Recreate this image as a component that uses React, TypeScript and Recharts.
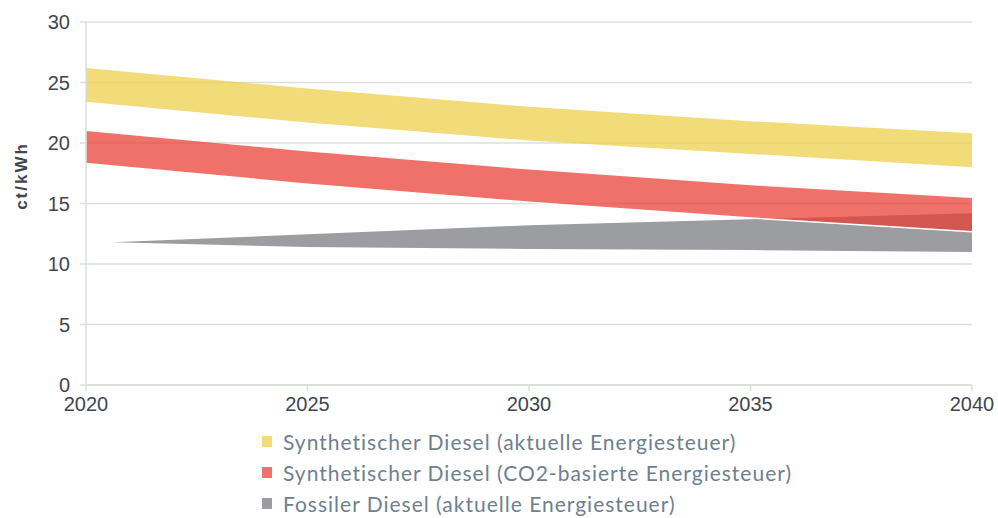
import React from 'react';
import { ComposedChart, Area, Line, XAxis, YAxis, CartesianGrid, Legend } from 'recharts';

const years = [2020, 2020.6, 2025, 2030, 2035, 2040];
const yellowLow = [23.4, null, 21.7, 20.2, 19.1, 18.0];
const yellowHigh = [26.2, null, 24.5, 23.0, 21.8, 20.8];
const redLow = [18.3, null, 16.6, 15.1, 13.8, 12.67];
const redHigh = [21.0, null, 19.3, 17.8, 16.5, 15.45];
const grayLow = [null, 11.8, 11.4, 11.25, 11.15, 11.0];
const grayHigh = [null, 11.8, 12.45, 13.2, 13.7, 14.2];

const xTicks = [2020, 2025, 2030, 2035, 2040];
const yTicks = [0, 5, 10, 15, 20, 25, 30];

const seriesNames = [
  'Synthetischer Diesel (aktuelle Energiesteuer)',
  'Synthetischer Diesel (CO2-basierte Energiesteuer)',
  'Fossiler Diesel (aktuelle Energiesteuer)',
];
const legendColors = ['#F2DC79', '#F0716B', '#9C9DA1'];

const pair = (a: (number | null)[], b: (number | null)[], i: number) =>
  a[i] == null || b[i] == null ? null : [a[i], b[i]];

const data = years.map((year, i) => ({
  year,
  yellow: pair(yellowLow, yellowHigh, i),
  red: pair(redLow, redHigh, i),
  gray: pair(grayLow, grayHigh, i),
  redLow: redLow[i],
}));

const gridColor = '#D9E0D9';
const tickStyle = { fill: '#3F4650', fontSize: 20, fontFamily: '"Liberation Sans", Arial, sans-serif' };

const LegendContent = () => (
  <div style={{ fontFamily: 'Lato, "Open Sans", sans-serif', fontSize: 21, letterSpacing: 1, color: '#6E7F8F' }}>
    {seriesNames.map((n, i) => (
      <div key={n} style={{ display: 'flex', alignItems: 'center', height: 31 }}>
        <span style={{ display: 'inline-block', width: 10, height: 11, background: legendColors[i], marginRight: 11 }} />
        <span>{n}</span>
      </div>
    ))}
  </div>
);

export default function App() {
  return (
    <div style={{ position: 'absolute', left: 0, top: 0 }}>
      <ComposedChart width={998} height={518} data={data} margin={{ top: 22, right: 26, bottom: 103, left: 0 }}>
        <CartesianGrid stroke={gridColor} strokeWidth={1.5} vertical={false} />
        <XAxis
          dataKey="year"
          type="number"
          domain={[2020, 2040]}
          ticks={xTicks}
          height={30}
          tick={tickStyle}
          tickLine={{ stroke: gridColor, strokeWidth: 1.5 }}
          axisLine={{ stroke: gridColor, strokeWidth: 1.5 }}
          tickSize={6}
          tickMargin={6}
          interval={0}
        />
        <YAxis
          type="number"
          domain={[0, 30]}
          ticks={yTicks}
          width={86}
          tick={tickStyle}
          tickLine={{ stroke: gridColor, strokeWidth: 1.5 }}
          axisLine={{ stroke: gridColor, strokeWidth: 1.5 }}
          tickSize={6}
          tickMargin={10}
          interval={0}
          label={{
            content: () => (
              <text
                x={21}
                y={176}
                transform="rotate(-90 21 176)"
                textAnchor="middle"
                dominantBaseline="central"
                style={{ fontFamily: '"Liberation Sans", Arial, sans-serif', fontSize: 17, fontWeight: 'bold', letterSpacing: 2, fill: '#3F4650' }}
              >
                ct/kWh
              </text>
            ),
          }}
        />
        <Area dataKey="gray" type="linear" fill="#9C9DA1" fillOpacity={1} stroke="none" connectNulls isAnimationActive={false} />
        <Area dataKey="yellow" type="linear" fill="#EDCE45" fillOpacity={0.72} stroke="none" connectNulls isAnimationActive={false} />
        <Area dataKey="red" type="linear" fill="#EA3A31" fillOpacity={0.72} stroke="none" connectNulls isAnimationActive={false} />
        <Line dataKey="redLow" type="linear" stroke="#FFFFFF" strokeWidth={1.5} dot={false} activeDot={false} connectNulls isAnimationActive={false} />
        <Legend
          layout="vertical"
          align="center"
          verticalAlign="middle"
          content={<LegendContent />}
          wrapperStyle={{ top: 426, left: 262, width: 'auto' }}
        />
      </ComposedChart>
    </div>
  );
}
